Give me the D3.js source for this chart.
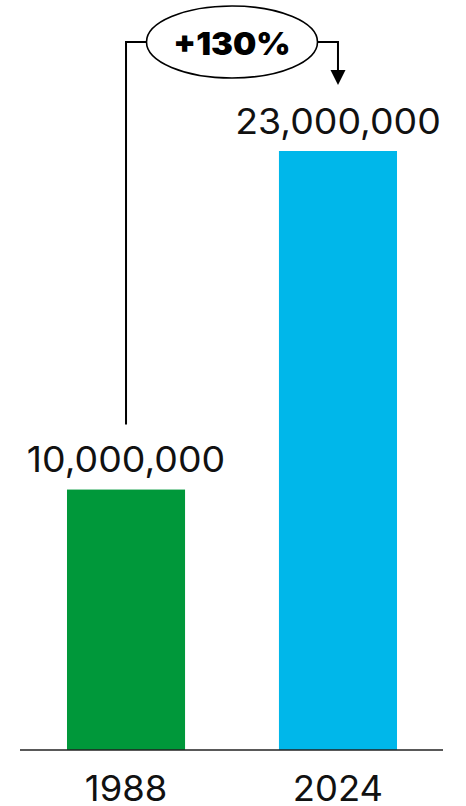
<!DOCTYPE html>
<html>
<head>
<meta charset="utf-8">
<script src="https://cdn.jsdelivr.net/npm/d3@7"></script>
<style>
  html, body { margin: 0; padding: 0; background: #fff; }
  svg { display: block; }
</style>
</head>
<body>
<svg id="chart" width="466" height="806"></svg>
<script>
const years = ["1988", "2024"];
const values = [10000000, 23000000];
const colors = ["#00983a", "#00b7ea"];
const changeLabel = "+130%";

const W = 466, H = 806;
const svg = d3.select("#chart");

const x = d3.scaleBand().domain(years).range([20, 444])
  .paddingInner(0.443).paddingOuter(0.2217);
const y = d3.scaleLinear().domain([0, 23000000]).range([750, 151]);

const fmt = d3.format(",");
const font = "Inter, 'Noto Sans', sans-serif";

// bars
svg.selectAll("rect.bar").data(years).join("rect")
  .attr("class", "bar")
  .attr("x", d => x(d))
  .attr("width", x.bandwidth())
  .attr("y", (d, i) => y(values[i]))
  .attr("height", (d, i) => y(0) - y(values[i]))
  .attr("fill", (d, i) => colors[i]);

// value labels
svg.selectAll("text.val").data(years).join("text")
  .attr("class", "val")
  .attr("transform", (d, i) => `translate(${x(d) + x.bandwidth() / 2},${y(values[i]) - 17.5}) scale(1.07,1)`)
  .attr("text-anchor", "middle")
  .attr("font-family", font)
  .attr("font-size", 35)
  .attr("fill", "#111")
  .text((d, i) => fmt(values[i]));

// baseline axis
const axis = d3.axisBottom(x).tickSize(0).tickPadding(0);
const g = svg.append("g").attr("transform", `translate(0,${y(0)})`).call(axis);
g.select(".domain").attr("d", `M20,0H443`).attr("stroke", "#222").attr("stroke-width", 1.6);
g.selectAll(".tick text")
  .attr("font-family", font)
  .attr("font-size", 35)
  .attr("fill", "#111")
  .attr("dy", 0)
  .attr("y", 0)
  .attr("transform", "translate(0,50.5) scale(1.04,1)");

// annotation bracket
const cx0 = x(years[0]) + x.bandwidth() / 2;
const cx1 = x(years[1]) + x.bandwidth() / 2;
const topY = 42;
const ecx = (cx0 + cx1) / 2, rx = 85.5, ry = 36;
const y0 = y(values[0]) - 65;
const y1 = y(values[1]) - 66;

svg.append("path")
  .attr("d", `M${cx0},${y0}V${topY}H${ecx - rx}`)
  .attr("fill", "none").attr("stroke", "#000").attr("stroke-width", 2);
svg.append("path")
  .attr("d", `M${ecx + rx},${topY}H${cx1}V${y1 - 12}`)
  .attr("fill", "none").attr("stroke", "#000").attr("stroke-width", 2);
svg.append("path")
  .attr("d", `M${cx1 - 7.5},${y1 - 15}L${cx1 + 7.5},${y1 - 15}L${cx1},${y1}Z`)
  .attr("fill", "#000");

svg.append("ellipse")
  .attr("cx", ecx).attr("cy", topY).attr("rx", rx).attr("ry", ry)
  .attr("fill", "#fff").attr("stroke", "#000").attr("stroke-width", 1.6);
svg.append("text")
  .attr("transform", `translate(${ecx},54.5) scale(1.06,1)`)
  .attr("text-anchor", "middle")
  .attr("font-family", font)
  .attr("font-weight", 900)
  .attr("font-size", 31)
  .attr("fill", "#000")
  .text(changeLabel);
</script>
</body>
</html>
